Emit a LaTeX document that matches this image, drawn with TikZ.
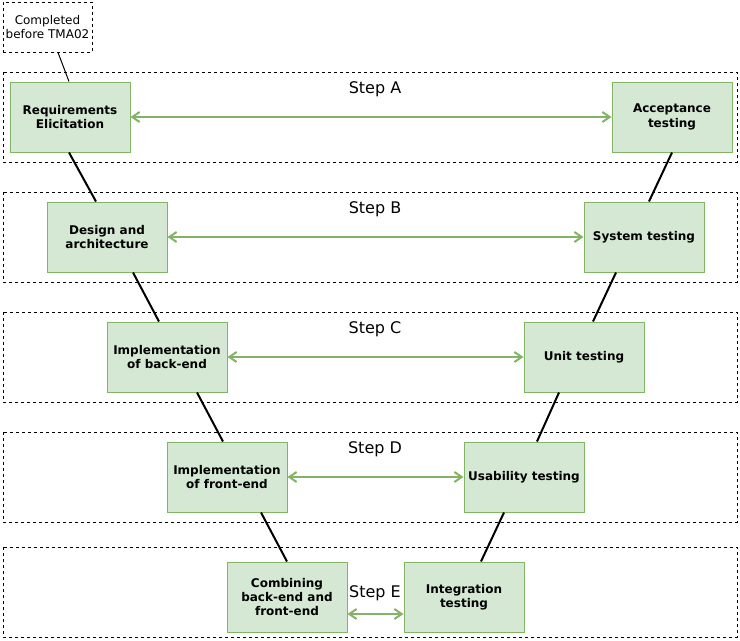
\documentclass[tikz,border=0pt]{standalone}
\usepackage{fontspec}
\setmainfont{DejaVu Sans}
\usetikzlibrary{arrows.meta,calc}

\tikzset{every picture/.style={line width=0.75pt}}
\tikzset{
  stage/.style={draw={rgb, 255:red, 130; green, 179; blue, 102 }, fill={rgb, 255:red, 213; green, 232; blue, 212 }, minimum width=90pt, minimum height=52.5pt, inner sep=1pt, align=center, font=\fontsize{9}{10.8}\selectfont\bfseries},
  band/.style={dash pattern=on 2.25pt off 2.25pt},
  vline/.style={line width=1.5pt},
  link/.style={color={rgb, 255:red, 130; green, 179; blue, 102 }, line width=1.5pt, {Straight Barb[length=5.5pt,width=7.5pt]}-{Straight Barb[length=5.5pt,width=7.5pt]}},
  steplabel/.style={font=\fontsize{12}{14.4}\selectfont, inner sep=0.75pt}
}

\begin{document}
\begin{tikzpicture}[x=0.75pt,y=0.75pt,yscale=-1,xscale=1]
        \useasboundingbox (0,0) rectangle (740,640);
        %Dashed Bands
        \draw [band] (3,72) rectangle (737,162) ;
        \draw [band] (3,192) rectangle (737,282) ;
        \draw [band] (3,312) rectangle (737,402) ;
        \draw [band] (3,432) rectangle (737,522) ;
        \draw [band] (3,547) rectangle (737,637) ;
        % Note
        \node [band, draw, minimum width=66.75pt, minimum height=37.5pt, inner sep=0.75pt, align=center, font=\fontsize{9}{10.8}\selectfont] (note) at (47.5,27) {Completed\\before TMA02};
        % Left column
        \node [stage] (req) at (70,117) {Requirements\\Elicitation};
        \node [stage] (design) at (107,237) {Design and\\architecture};
        \node [stage] (implback) at (167,357) {Implementation\\of back-end};
        \node [stage] (implfront) at (227,477) {Implementation\\of front-end};
        \node [stage] (combine) at (287,597) {Combining\\back-end and\\front-end};
        % Right column
        \node [stage] (acc) at (672,117) {Acceptance\\testing};
        \node [stage] (systest) at (644,237) {System testing};
        \node [stage] (unittest) at (584,357) {Unit testing};
        \node [stage] (usetest) at (524,477) {Usability testing};
        \node [stage] (integ) at (464,597) {Integration\\testing};
        % Step labels
        \node [steplabel] (stepa) at (375,89) {Step A};
        \node [steplabel] (stepb) at (375,209) {Step B};
        \node [steplabel] (stepc) at (375,329) {Step C};
        \node [steplabel] (stepd) at (375,449) {Step D};
        \node [steplabel] (stepe) at (375,593) {Step E};
        %Straight Lines
        \draw ($(note.south)+(10.5,0)$) -- ($(req.north)+(-1,0)$) ;
        \draw [vline] ($(req.south)+(-1,0)$) -- ($(design.north)+(-11,0)$) ;
        \draw [vline] ($(design.south)+(26,0)$) -- ($(implback.north)+(-8,0)$) ;
        \draw [vline] ($(implback.south)+(30,0)$) -- ($(implfront.north)+(-4,0)$) ;
        \draw [vline] ($(implfront.south)+(34,0)$) -- (combine.north) ;
        \draw [vline] (acc.south) -- ($(systest.north)+(5,0)$) ;
        \draw [vline] ($(systest.south)+(-28,0)$) -- ($(unittest.north)+(9,0)$) ;
        \draw [vline] ($(unittest.south)+(-25,0)$) -- ($(usetest.north)+(13,0)$) ;
        \draw [vline] ($(usetest.south)+(-20,0)$) -- ($(integ.north)+(17,0)$) ;
        %Arrows
        \draw [link] (req.east) -- (acc.west) ;
        \draw [link] (design.east) -- (systest.west) ;
        \draw [link] (implback.east) -- (unittest.west) ;
        \draw [link] (implfront.east) -- (usetest.west) ;
        \draw [link] ($(combine.east)+(0,17)$) -- ($(integ.west)+(0,17)$) ;
\end{tikzpicture}
\end{document}
